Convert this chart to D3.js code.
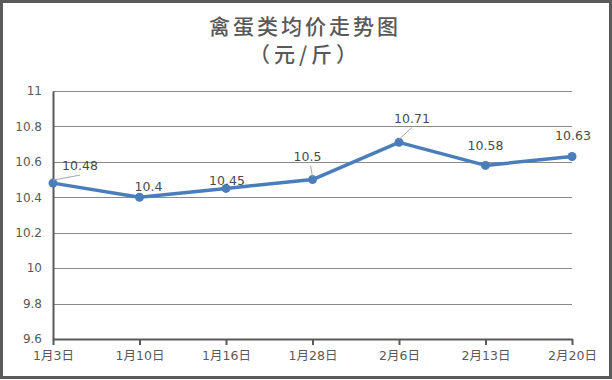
<!DOCTYPE html>
<html>
<head>
<meta charset="utf-8">
<script src="https://cdn.jsdelivr.net/npm/d3@7"></script>
<style>
  html, body { margin: 0; padding: 0; background: #fff; }
  svg { display: block; }
</style>
</head>
<body>
<div id="chart"></div>
<script>
// Data
const dates = ["1月3日", "1月10日", "1月16日", "1月28日", "2月6日", "2月13日", "2月20日"];
const prices = [10.48, 10.4, 10.45, 10.5, 10.71, 10.58, 10.63];
const yTicks = [9.6, 9.8, 10, 10.2, 10.4, 10.6, 10.8, 11];
const titleLines = ["禽蛋类均价走势图", "（元/斤）"];

// label offsets from each point (centre of text), and whether a leader line is drawn
const labelOffsets = [[27, -17], [9, -11], [1, -8], [-5, -23], [13, -24], [0, -20], [1, -21]];
const leaders = [true, false, false, true, true, false, false];

const W = 612, H = 380;
const margin = { top: 91, right: 40, bottom: 41, left: 53 };
const width = W - margin.left - margin.right;
const height = H - margin.top - margin.bottom;

const svg = d3.select("#chart")
  .append("svg")
  .attr("width", W)
  .attr("height", H);

// outer frame
svg.append("rect")
  .attr("x", 1.5).attr("y", 1.5)
  .attr("width", W - 3).attr("height", H - 4)
  .attr("fill", "#fff")
  .attr("stroke", "#5a5a5a")
  .attr("stroke-width", 3);

// title
svg.append("g")
  .selectAll("text")
  .data(titleLines)
  .enter()
  .append("text")
  .attr("x", 305)
  .attr("y", (d, i) => 34 + i * 28)
  .attr("text-anchor", "middle")
  .attr("font-family", "'Noto Sans CJK SC', sans-serif")
  .attr("font-size", 21)
  .attr("font-weight", 500)
  .attr("fill", "#595959")
  .style("letter-spacing", (d, i) => i === 0 ? "3px" : "4px")
  .text(d => d);

const g = svg.append("g")
  .attr("transform", `translate(${margin.left}, ${margin.top})`);

// Scales
const xScale = d3.scalePoint().domain(dates).range([0, width]).padding(0);
const yScale = d3.scaleLinear().domain([9.6, 11]).range([height, 0]);

// gridlines
g.append("g")
  .selectAll("line")
  .data(yTicks.slice(1))
  .enter()
  .append("line")
  .attr("x1", 0).attr("x2", width)
  .attr("y1", d => Math.round(yScale(d)) + 0.5)
  .attr("y2", d => Math.round(yScale(d)) + 0.5)
  .attr("stroke", "#8a8a8a")
  .attr("stroke-width", 1.2);

// y axis
const yAxis = g.append("g")
  .call(d3.axisLeft(yScale).tickValues(yTicks).tickSize(0).tickPadding(11).tickFormat(d => d3.format("")(d)));
yAxis.select(".domain").attr("stroke", "#595959").attr("stroke-width", 2);
yAxis.selectAll("text")
  .attr("font-family", "'DejaVu Sans', sans-serif")
  .attr("font-size", 12)
  .attr("fill", "#595959");

// x axis
const xAxis = g.append("g")
  .attr("transform", `translate(0, ${height})`)
  .call(d3.axisBottom(xScale).tickSizeInner(6).tickSizeOuter(0).tickPadding(6));
xAxis.select(".domain").attr("stroke", "#595959").attr("stroke-width", 2);
xAxis.selectAll(".tick line").attr("stroke", "#595959").attr("stroke-width", 2);
xAxis.selectAll("text")
  .attr("font-family", "'DejaVu Sans', 'Noto Sans CJK SC', sans-serif")
  .attr("font-size", 12.5)
  .attr("fill", "#595959");

// line
const lineGenerator = d3.line()
  .x((d, i) => xScale(dates[i]))
  .y(d => yScale(d));

g.append("path")
  .datum(prices)
  .attr("fill", "none")
  .attr("stroke", "#4a7ebb")
  .attr("stroke-width", 3.5)
  .attr("stroke-linejoin", "round")
  .attr("d", lineGenerator);

g.selectAll(".dot")
  .data(prices)
  .enter()
  .append("circle")
  .attr("class", "dot")
  .attr("cx", (d, i) => xScale(dates[i]))
  .attr("cy", d => yScale(d))
  .attr("r", 4.5)
  .attr("fill", "#4a7ebb");

// leader lines
const pts = prices.map((d, i) => ({ v: d, i }));
g.selectAll(".leader")
  .data(pts.filter(p => leaders[p.i]))
  .enter()
  .append("line")
  .attr("class", "leader")
  .attr("x1", p => xScale(dates[p.i]))
  .attr("y1", p => yScale(p.v) - 3)
  .attr("x2", p => {
    const o = labelOffsets[p.i];
    return xScale(dates[p.i]) + o[0] * (o[0] > 5 ? 1 : 0.4);
  })
  .attr("y2", p => yScale(p.v) + labelOffsets[p.i][1] + 9)
  .attr("stroke", "#a6a6a6")
  .attr("stroke-width", 1);

// data labels
g.selectAll(".label")
  .data(pts)
  .enter()
  .append("text")
  .attr("class", "label")
  .attr("x", p => xScale(dates[p.i]) + labelOffsets[p.i][0])
  .attr("y", p => yScale(p.v) + labelOffsets[p.i][1])
  .attr("dy", "0.35em")
  .attr("text-anchor", "middle")
  .attr("font-family", "'DejaVu Sans', sans-serif")
  .attr("font-size", 12.5)
  .attr("fill", "#4a4a4a")
  .text(p => p.v);
</script>
</body>
</html>
